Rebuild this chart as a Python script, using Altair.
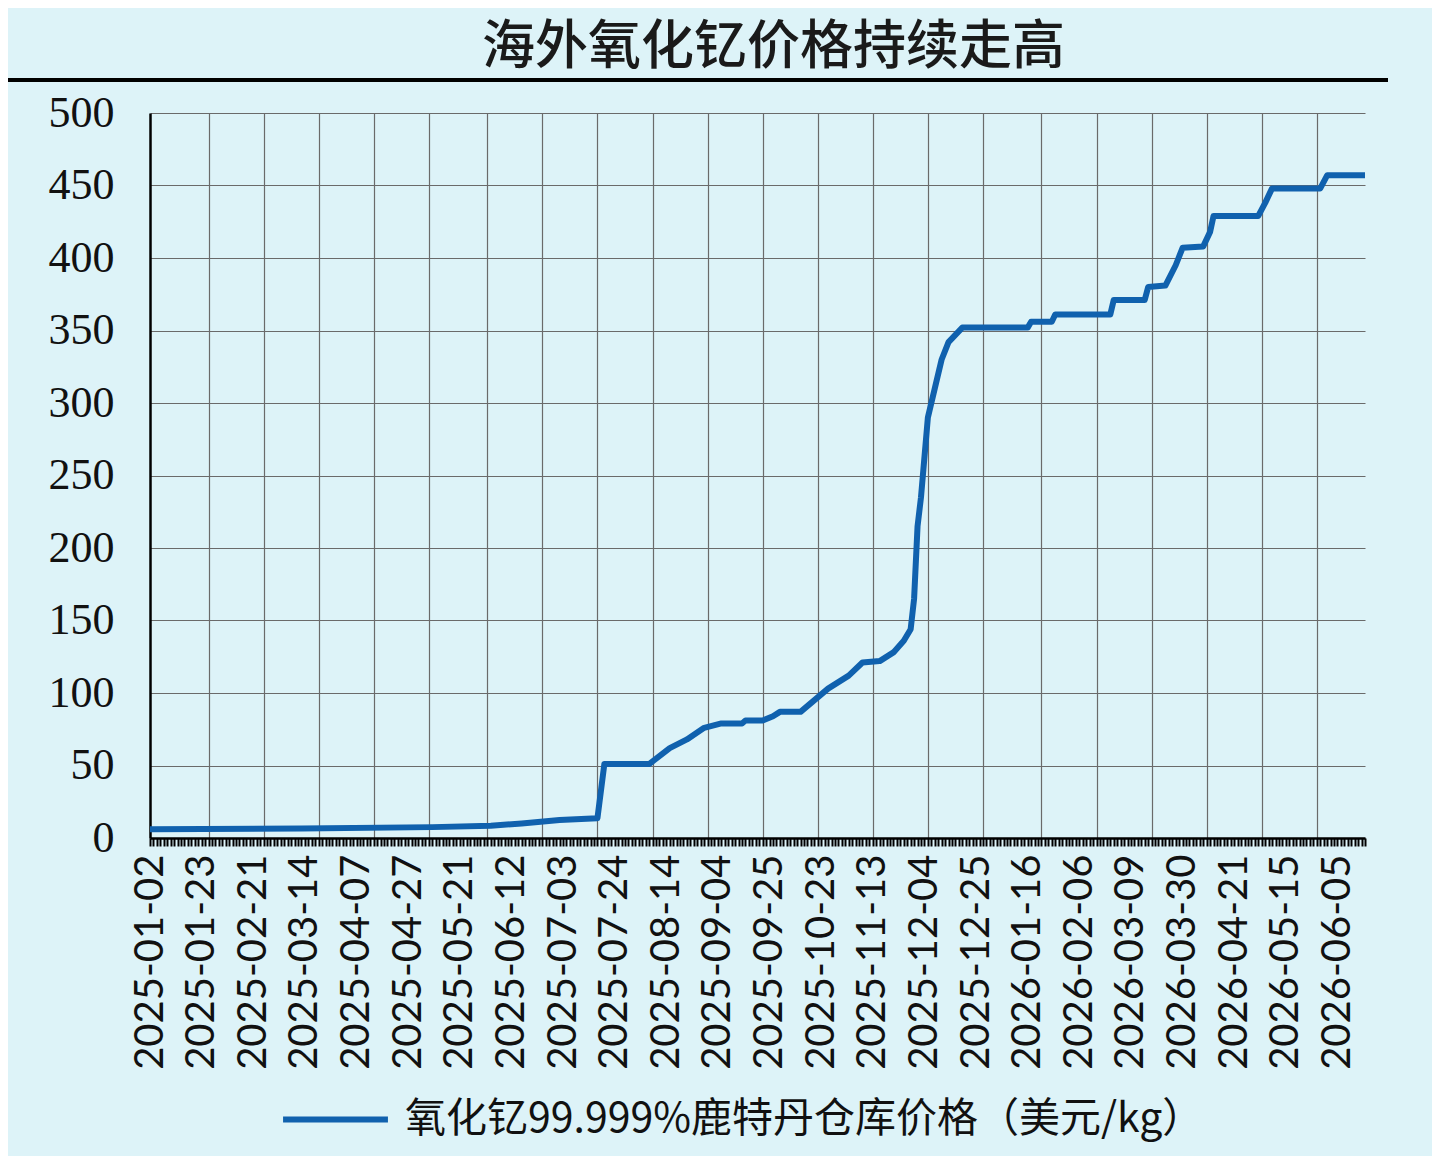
import json
import pandas as pd
import altair as alt

# trading-day index of each read-off point and the price there (USD/kg)
day_idx = [0, 44, 82, 99, 108, 119, 130, 132, 145, 151,
           156, 161, 166, 172, 173, 178, 181, 183, 189, 197,
           203, 207, 212, 216, 219, 221, 222, 223, 224, 226,
           228, 230, 232, 236, 255, 256, 262, 263, 279, 280,
           289, 290, 295, 298, 300, 306, 308, 309, 322, 324,
           326, 340, 342, 353]
price = [6.0, 6.5, 7.5, 8.5, 10, 12.4, 13.7, 51, 51, 62,
         68, 76, 79, 79, 81, 81, 84, 87, 87, 103,
         112, 121, 122, 128, 136, 144, 165, 215, 235, 290,
         310, 330, 342, 352, 352, 356, 356, 361, 361, 371,
         371, 380, 381, 395, 407, 408, 418, 429, 429, 438,
         448, 448, 457, 457]

# one axis label every 15 trading days
label_dates = ["2025-01-02", "2025-01-23", "2025-02-21", "2025-03-14", "2025-04-07",
               "2025-04-27", "2025-05-21", "2025-06-12", "2025-07-03", "2025-07-24",
               "2025-08-14", "2025-09-04", "2025-09-25", "2025-10-23", "2025-11-13",
               "2025-12-04", "2025-12-25", "2026-01-16", "2026-02-06", "2026-03-09",
               "2026-03-30", "2026-04-21", "2026-05-15", "2026-06-05"]

series_name = "氧化钇99.999%鹿特丹仓库价格（美元/kg）"
title_text = "海外氧化钇价格持续走高"

n_days = 353
line_color = "#1061ae"
bg = "#ddf3f8"
grid_color = "#6a6a6a"

# vertical gridlines of the original sit on their own spacing, not on the labels
grid_idx = [17, 33, 49, 65, 81, 98, 114, 130, 146, 162, 178,
            194, 210, 226, 242, 259, 275, 291, 307, 323, 339]

df = pd.DataFrame({"day": day_idx, "price": price, "series": series_name})

label_expr = f"datum.value % 15 == 0 ? {json.dumps(label_dates)}[datum.value / 15] : ''"
grid_test = f"indexof({json.dumps(grid_idx)}, datum.value) >= 0"

line = alt.Chart(df).mark_line(strokeWidth=6, strokeJoin="round").encode(
    x=alt.X("day:Q",
            scale=alt.Scale(domain=[0, n_days], nice=False, zero=False),
            axis=alt.Axis(values=list(range(n_days + 1)), labelExpr=label_expr,
                          labelAngle=270, labelFont="Lato", labelFontSize=40,
                          labelColor="#111111", labelOverlap=False, labelFlush=False,
                          labelLimit=0, labelPadding=8, tickSize=8, tickWidth=2,
                          tickColor="black", domainColor="black", domainWidth=2.5,
                          grid=True, gridColor=grid_color, gridWidth=1.2,
                          gridOpacity={"condition": {"test": grid_test, "value": 1}, "value": 0},
                          title=None)),
    y=alt.Y("price:Q",
            scale=alt.Scale(domain=[0, 500], nice=False),
            axis=alt.Axis(values=list(range(0, 501, 50)), grid=True, gridColor=grid_color,
                          gridWidth=1.2, ticks=False, domainColor="black", domainWidth=2.5,
                          labelFont="Liberation Serif", labelFontSize=44,
                          labelColor="#111111", labelPadding=36, title=None)),
    color=alt.Color("series:N",
                    scale=alt.Scale(domain=[series_name], range=[line_color]),
                    legend=alt.Legend(orient="none", legendX=130, legendY=951, title=None,
                                      symbolType="stroke", symbolSize=11000,
                                      symbolStrokeWidth=6, labelOffset=14,
                                      labelFont="Noto Sans CJK SC", labelFontSize=41,
                                      labelColor="#111111", labelLimit=0)),
)

# black rule under the title
underline = alt.Chart(pd.DataFrame({"a": [0]})).mark_rule(color="black", strokeWidth=4).encode(
    x=alt.value(-142), x2=alt.value(1238), y=alt.value(-33)
)

chart = alt.layer(line, underline).properties(
    width=1215,
    height=725,
    title=alt.TitleParams(title_text, font="Noto Sans CJK SC", fontSize=53,
                          fontWeight=500, color="#1a1a1a", anchor="middle",
                          dx=16, dy=60, offset=10, baseline="bottom"),
    autosize=alt.AutoSizeParams(type="none"),
    padding={"left": 142, "top": 105, "right": 67, "bottom": 318},
).configure(background=bg).configure_view(stroke=None)

chart.save("out.html", embed_options={"renderer": "svg", "actions": False})
